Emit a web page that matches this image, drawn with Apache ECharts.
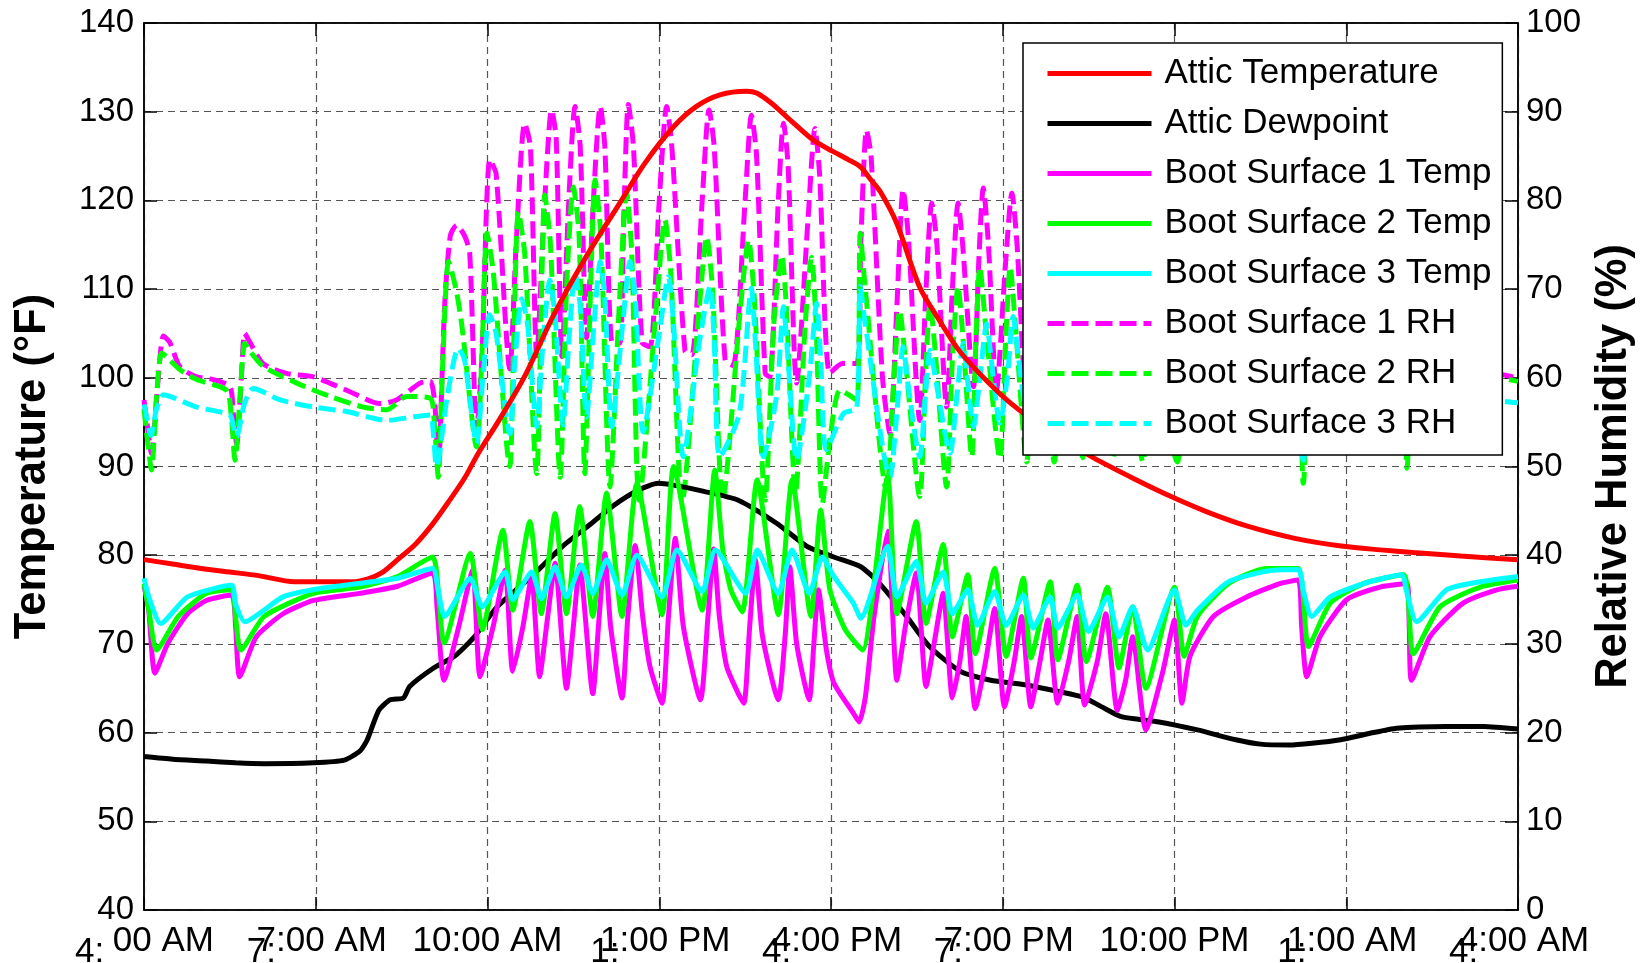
<!DOCTYPE html>
<html>
<head>
<meta charset="utf-8">
<title>Attic and boot surface conditions</title>
<script src="https://cdn.jsdelivr.net/npm/echarts@6/dist/echarts.min.js"></script>
<style>
    html, body { margin: 0; padding: 0; background: #fff; }
    #chart { width: 1648px; height: 963px; }
</style>
</head>
<body>
<div id="chart"></div>
<script>
// x values are hours after 4:00 AM
const xTickLabels = ['4:00 AM', '7:00 AM', '10:00 AM', '1:00 PM', '4:00 PM', '7:00 PM', '10:00 PM', '1:00 AM', '4:00 AM']
// the stray fragments printed under some tick labels
const xTickStubs = ['4:', '7:', '', '1:', '4:', '7:', '', '1:', '4:']

// temperatures (°F)
const atticTemp = [[0,79.5],[0.5,79.0],[1,78.5],[1.5,78.1],[2,77.7],[2.63,77.0],[3.63,77.0],[3.9,77.3],[4.15,78.0],[4.43,79.5],[4.75,81.3],[5.04,83.5],[5.35,86.3],[5.6,88.7],[5.84,91.5],[6.2,95.2],[6.66,100.3],[7.15,107.0],[7.7,113.4],[8.31,119.7],[8.75,124.2],[9.25,128.3],[9.65,130.6],[10.06,131.9],[10.53,132.3],[10.7,132.1],[10.95,131.0],[11.23,129.4],[11.69,126.8],[12.04,125.5],[12.3,124.6],[12.51,123.8],[12.7,122.3],[12.86,121.0],[13.15,117.4],[13.55,110.2],[13.9,106.4],[14.2,103.4],[14.49,101.2],[14.95,98.2],[15.3,96.3],[15.8,94.0],[16.58,91.0],[17.3,88.6],[17.98,86.5],[18.6,84.8],[19.26,83.3],[20.1,81.9],[20.95,81.0],[21.6,80.6],[22.17,80.3],[23.0,79.9],[24,79.5]]

const atticDew = [[0,57.3],[0.5,57.0],[1.09,56.8],[1.6,56.6],[2.1,56.5],[2.96,56.6],[3.5,56.9],[3.77,57.9],[3.9,59.2],[4.1,62.5],[4.3,63.7],[4.53,63.9],[4.64,65.2],[5.04,67.2],[5.44,68.7],[5.77,70.8],[6.17,74.2],[6.77,77.6],[7.31,81.0],[7.78,83.4],[8.18,85.5],[8.65,87.4],[8.98,88.1],[9.25,87.9],[9.78,87.2],[10.38,86.2],[11.05,83.6],[11.58,81.0],[12.05,79.8],[12.52,78.7],[12.85,76.8],[13.32,73.1],[13.72,69.7],[14.26,66.9],[14.79,65.9],[15.39,65.4],[16.0,64.6],[16.4,64.0],[16.73,62.9],[17.07,61.8],[17.73,61.2],[18.4,60.3],[19.07,59.2],[19.5,58.7],[20.0,58.6],[20.4,58.8],[20.9,59.2],[21.4,59.9],[21.88,60.5],[22.75,60.7],[23.4,60.7],[24,60.4]]

const boot1Temp = [[0,76.5],[0.08,74],[0.19,66.7],[0.42,70.1],[0.76,73.4],[1.09,74.9],[1.53,75.5],[1.6,72],[1.67,66.3],[1.96,70.8],[2.43,73.4],[2.96,74.9],[3.77,75.7],[4.43,76.5],[5.04,78.0],[5.12,74],[5.24,65.9],[5.5,72],[5.74,78.3],[5.87,66.3],[6.1,72],[6.31,78.3],[6.44,66.9],[6.62,72],[6.77,77.6],[6.91,66.3],[7.05,73],[7.18,79.1],[7.38,65.0],[7.5,72],[7.61,78.9],[7.84,64.4],[7.95,73],[8.05,80.2],[8.15,72],[8.35,63.9],[8.45,73],[8.58,81.1],[8.71,73.1],[8.84,67.4],[9.05,63.3],[9.16,73],[9.28,81.9],[9.42,72],[9.72,63.7],[9.85,73],[9.95,80.7],[10.05,73.1],[10.18,67.4],[10.38,64.4],[10.48,63.3],[10.58,72],[10.68,79.5],[10.8,71],[11.08,63.7],[11.2,71],[11.28,78.7],[11.4,70],[11.62,63.7],[11.7,70],[11.78,76.1],[11.92,69.3],[12.05,65.6],[12.39,62.2],[12.49,61.2],[12.6,64],[12.75,73],[12.99,82.7],[13.15,65.9],[13.3,72],[13.49,78.0],[13.66,65.2],[13.8,70],[13.96,75.7],[14.12,63.9],[14.25,68],[14.36,73.1],[14.52,62.7],[14.7,68],[14.86,74.0],[15.03,62.9],[15.2,68],[15.33,73.1],[15.49,62.9],[15.65,68],[15.79,72.7],[15.96,63.3],[16.15,68],[16.3,73.1],[16.43,63.1],[16.65,68],[16.8,73.4],[17.0,62.5],[17.15,66],[17.27,70.8],[17.5,60.3],[17.8,67],[18.0,72.7],[18.13,63.3],[18.27,68.6],[18.68,73.1],[19.26,75.3],[19.84,76.8],[20.16,77.2],[20.22,72],[20.31,66.3],[20.54,70.8],[21.01,75.0],[21.59,76.4],[22.06,76.8],[22.1,72],[22.14,65.9],[22.46,70.8],[23.04,74.6],[23.63,76.1],[24,76.5]]

const boot2Temp = [[0,76.8],[0.08,74],[0.22,69.3],[0.6,73.1],[1.09,75.7],[1.53,76.1],[1.6,73],[1.69,69.3],[2.1,73.1],[2.96,75.7],[3.77,76.4],[4.43,77.6],[5.04,79.8],[5.14,76],[5.24,70.1],[5.7,80.2],[5.91,71.6],[6.27,82.8],[6.44,73.8],[6.74,83.8],[6.94,73.4],[7.18,84.7],[7.38,73.4],[7.61,85.5],[7.84,73.1],[8.08,87.0],[8.35,73.1],[8.61,88.1],[9.05,73.3],[9.25,90.0],[9.75,73.8],[9.97,89.6],[10.11,80.6],[10.25,76.1],[10.45,73.6],[10.71,88.5],[11.08,73.3],[11.32,88.5],[11.65,73.1],[11.82,85.1],[11.98,76.1],[12.25,71.6],[12.55,69.3],[12.99,88.9],[13.15,73.4],[13.49,83.8],[13.66,72.3],[13.96,81.2],[14.12,70.8],[14.39,77.8],[14.52,68.9],[14.86,78.5],[15.06,68.6],[15.36,77.4],[15.49,68.4],[15.83,77.0],[15.96,68.2],[16.3,76.6],[16.46,68.0],[16.83,76.4],[17.03,67.3],[17.27,74.2],[17.5,65.0],[18.0,76.4],[18.17,68.6],[18.4,73.1],[18.94,76.8],[19.6,78.5],[20.16,78.5],[20.34,69.7],[20.72,74.6],[21.3,76.8],[22.0,77.8],[22.17,68.9],[22.64,74.2],[23.34,76.4],[24,77.2]]

const boot3Temp = [[0,77.4],[0.1,75],[0.29,72.3],[0.76,75.3],[1.53,76.6],[1.6,74.5],[1.76,72.5],[2.43,75.3],[3.13,76.3],[4.43,77.4],[5.04,78.5],[5.14,76],[5.25,73.1],[5.7,77.4],[5.91,74.2],[6.31,78.1],[6.44,75.0],[6.77,78.1],[6.94,75.1],[7.18,78.7],[7.38,75.3],[7.64,78.9],[7.84,75.7],[8.08,79.5],[8.35,75.5],[8.61,80.0],[9.05,75.3],[9.31,80.6],[9.75,75.9],[9.98,80.6],[10.51,75.7],[10.71,80.6],[11.08,75.7],[11.32,80.6],[11.62,75.7],[11.85,79.8],[12.05,77.6],[12.39,74.6],[12.52,72.9],[12.99,81.0],[13.15,75.3],[13.49,79.3],[13.66,74.6],[13.96,78.1],[14.12,73.4],[14.39,76.1],[14.56,72.1],[14.86,75.9],[15.06,72.1],[15.36,75.5],[15.53,71.8],[15.83,75.3],[15.96,71.8],[16.3,75.5],[16.5,71.4],[16.83,75.3],[17.03,70.8],[17.27,74.2],[17.53,69.3],[18.0,76.1],[18.2,72.1],[18.4,73.8],[18.94,77.0],[19.6,78.2],[20.16,78.4],[20.25,76],[20.4,73.1],[20.72,75.3],[21.3,76.8],[21.97,77.8],[22.05,76],[22.23,72.5],[22.75,76.1],[23.34,77.0],[24,77.6]]

// relative humidity (%)
const boot1RH = [[0,57.5],[0.05,55],[0.13,51.5],[0.25,60],[0.34,64.7],[0.45,64],[0.63,61.2],[0.92,60.1],[1.21,59.8],[1.5,59.0],[1.56,56],[1.62,52.5],[1.7,60],[1.76,65.0],[1.85,64],[2.08,61.6],[2.49,60.5],[2.96,60.1],[3.54,58.6],[4.12,57.1],[4.41,57.5],[4.82,59.4],[5.0,59.6],[5.08,57],[5.14,50.0],[5.25,68],[5.35,76],[5.46,77.2],[5.6,76],[5.69,74],[5.81,54],[5.9,62],[6.04,84.6],[6.15,83],[6.39,61],[6.5,75],[6.65,88.7],[6.75,86],[6.86,62.5],[7.0,80],[7.12,90.2],[7.2,87],[7.3,62.4],[7.42,80],[7.53,90.6],[7.62,86],[7.73,64.5],[7.85,80],[7.97,90.6],[8.05,86],[8.17,64],[8.31,63.9],[8.38,78],[8.46,90.8],[8.55,86],[8.7,64],[8.84,63.5],[9.0,80],[9.13,90.6],[9.22,86],[9.45,63],[9.57,62.6],[9.75,80],[9.87,90.2],[9.96,86],[10.15,62],[10.29,61.4],[10.5,80],[10.61,89.6],[10.7,85],[10.85,60.5],[10.93,60.1],[11.08,80],[11.17,88.7],[11.25,84],[11.4,59.4],[11.6,78],[11.72,88.1],[11.8,83],[11.98,60.5],[12.2,61.6],[12.45,61.6],[12.52,75],[12.62,87.9],[12.7,85],[12.9,60],[13.03,53.7],[13.15,68],[13.26,81.2],[13.35,76],[13.55,55.2],[13.66,70],[13.76,79.7],[13.85,75],[14.02,56.7],[14.12,70],[14.22,79.7],[14.3,75],[14.49,59.0],[14.58,73],[14.66,81.4],[14.75,75],[14.89,58.6],[15.05,73],[15.16,80.8],[15.25,75],[15.4,58.5],[15.52,72],[15.62,80.0],[15.72,74],[15.88,58.5],[16.0,72],[16.08,79.0],[16.2,73],[16.35,58.8],[16.45,71],[16.55,78.0],[16.68,72],[16.9,58.8],[17.0,70],[17.1,77.0],[17.22,71],[17.42,57.5],[17.52,68],[17.6,74.0],[17.75,68],[18.05,58],[18.15,66],[18.25,72.0],[18.4,66],[18.7,62],[19.2,61],[20.1,60.5],[20.25,52],[20.4,63],[21.0,61.5],[22.0,60.5],[22.1,52],[22.25,64],[23.0,61.5],[24,60]]

const boot2RH = [[0,56.5],[0.06,53],[0.13,49.6],[0.22,58],[0.31,62.8],[0.45,62],[0.63,60.9],[0.92,59.8],[1.44,58.6],[1.52,56],[1.59,50.7],[1.68,58],[1.76,63.9],[1.85,63],[2.08,61.3],[2.67,59.4],[3.25,57.9],[3.83,56.7],[4.24,56.4],[4.59,57.9],[5.0,57.7],[5.07,55],[5.14,48.8],[5.22,62],[5.32,73.1],[5.45,70],[5.55,66],[5.81,52.2],[5.9,62],[5.99,76.3],[6.1,72],[6.39,50.0],[6.45,62],[6.54,78.7],[6.65,74],[6.86,49.2],[6.93,65],[7.0,80.6],[7.1,75],[7.27,48.8],[7.38,70],[7.5,81.5],[7.6,76],[7.7,49.2],[7.8,70],[7.88,82.3],[7.98,76],[8.14,47.7],[8.3,68],[8.43,80.8],[8.52,74],[8.65,46.2],[8.95,68],[9.1,77.8],[9.2,72],[9.4,46],[9.7,68],[9.83,75.9],[9.93,70],[10.11,46.2],[10.42,68],[10.56,75.5],[10.66,69],[10.85,46.2],[11.0,66],[11.14,73.8],[11.22,68],[11.38,47],[11.55,66],[11.66,73.6],[11.74,66],[11.85,45.8],[12.0,54],[12.16,58.6],[12.45,57.5],[12.51,76.3],[12.6,70],[12.97,47.3],[13.1,60],[13.2,67.6],[13.3,62],[13.55,46.6],[13.65,60],[13.73,68.4],[13.82,63],[14.02,47.7],[14.12,62],[14.22,70.3],[14.3,65],[14.46,51.1],[14.53,64],[14.6,72.5],[14.7,66],[14.95,50.9],[15.05,64],[15.13,72.5],[15.22,66],[15.42,50.5],[15.52,64],[15.6,71],[15.7,65],[15.9,50.5],[16.0,63],[16.07,70],[16.17,64],[16.4,51],[16.48,63],[16.55,69],[16.65,63],[16.93,51],[17.02,62],[17.1,68],[17.2,62],[17.45,50.5],[17.55,60],[17.6,66],[17.7,61],[18.05,50.5],[18.15,60],[18.25,66],[18.4,62],[18.7,61],[19.2,60.5],[20.1,59.8],[20.25,48.1],[20.4,62],[21.0,60.5],[22.0,59.8],[22.06,49.8],[22.25,63],[23.0,61],[24,59.6]]

const boot3RH = [[0,57],[0.05,55.5],[0.12,53.5],[0.22,56.5],[0.34,58.1],[0.5,57.8],[0.92,56.7],[1.5,55.8],[1.56,54.5],[1.62,53.4],[1.75,57],[1.91,58.8],[2.38,57.5],[2.96,56.7],[3.54,56.2],[4.24,55.2],[4.71,55.6],[5.0,55.8],[5.05,54],[5.11,50.0],[5.3,58],[5.49,63.3],[5.6,62],[5.81,52.6],[5.92,60],[6.04,67.1],[6.15,65],[6.39,53.7],[6.48,62],[6.6,68.9],[6.7,66],[6.86,54.5],[6.97,64],[7.09,71.0],[7.18,67],[7.32,54.7],[7.43,65],[7.53,71.8],[7.62,68],[7.73,55.6],[7.86,66],[7.97,73.1],[8.05,69],[8.17,54.5],[8.36,66],[8.49,73.1],[8.58,69],[8.72,53.9],[9.0,65],[9.16,71.4],[9.25,66],[9.42,51.1],[9.7,64],[9.89,70.3],[9.96,64],[10.06,51.1],[10.4,56],[10.61,70.1],[10.68,64],[10.82,51.1],[11.05,58],[11.17,68.0],[11.25,62],[11.4,50.7],[11.62,60],[11.75,68.4],[11.82,62],[11.92,51.9],[12.22,56],[12.45,56.6],[12.51,70.3],[12.6,66],[13.03,48.8],[13.15,56],[13.26,63.5],[13.35,59],[13.55,51.1],[13.65,58],[13.73,63.1],[13.85,59],[14.08,51.5],[14.2,58],[14.31,63.9],[14.38,60],[14.49,54.5],[14.6,60],[14.72,66.1],[14.8,62],[14.95,54.9],[15.08,60],[15.18,66.9],[15.28,62],[15.45,54.5],[15.55,60],[15.65,66],[15.75,61],[15.92,54.5],[16.02,60],[16.1,65],[16.2,60],[16.42,54],[16.5,59],[16.58,64],[16.7,59],[16.95,53.5],[17.05,58],[17.12,63],[17.25,58],[17.48,53],[17.58,57],[17.65,61],[17.8,57],[18.08,53.5],[18.18,58],[18.28,62],[18.45,59],[18.8,58.3],[19.5,57.8],[20.1,57.5],[20.25,50.7],[20.4,59],[21.0,58],[22.0,57.5],[22.08,51.1],[22.25,60],[23.0,58],[24,57.2]]

const FONT = '"Liberation Sans", Arial, Helvetica, sans-serif'

const chartInstance = echarts.init(document.getElementById('chart'))

const makeLine = (name, data, color, axisIndex, dashed, smooth) => ({
    name: name,
    type: 'line',
    yAxisIndex: axisIndex,
    data: data,
    symbol: 'none',
    showSymbol: false,
    smooth: smooth,
    z: dashed ? 2 : 3,
    lineStyle: { color: color, width: 5, type: dashed ? [17, 7] : 'solid' },
    itemStyle: { color: color },
    emphasis: { disabled: true }
})

const axisBlack = { color: '#000', width: 1.5 }

const option = {
    animation: false,
    backgroundColor: '#fff',
    grid: {
        left: 144, right: 130, top: 23, bottom: 53,
        containLabel: false,
        outerBoundsMode: 'none',
        show: true,
        backgroundColor: '#fff',
        borderColor: '#000',
        borderWidth: 1.5
    },
    legend: {
        orient: 'vertical',
        left: 1023,
        top: 43,
        padding: [13, 11, 14, 22],
        itemGap: 15,
        itemWidth: 104,
        itemHeight: 35,
        backgroundColor: '#fff',
        borderColor: '#000',
        borderWidth: 1.5,
        borderRadius: 0,
        // hide the marker that line series put in the middle of the icon
        itemStyle: { opacity: 0, borderWidth: 0 },
        lineStyle: { width: 5 },
        textStyle: { fontSize: 35, fontFamily: FONT, color: '#000', padding: [0, 0, 0, 8] },
        data: ['Attic Temperature', 'Attic Dewpoint', 'Boot Surface 1 Temp', 'Boot Surface 2 Temp',
            'Boot Surface 3 Temp', 'Boot Surface 1 RH', 'Boot Surface 2 RH', 'Boot Surface 3 RH']
    },
    xAxis: [
        {
            type: 'value', min: 0, max: 24, interval: 3, position: 'bottom',
            axisLine: { show: true, onZero: false, lineStyle: axisBlack },
            axisTick: { show: true, inside: true, length: 13, lineStyle: axisBlack },
            splitLine: { show: true, lineStyle: { color: '#555', width: 1.2, type: [7, 5] } },
            axisLabel: {
                margin: 14, fontSize: 35, fontFamily: FONT, color: '#000',
                formatter: (v) => {
                    const i = Math.round(v / 3)
                    if (i === 0) return '{first|00 AM}'
                    return xTickStubs[i] ? '{shift|' + xTickLabels[i] + '}' : xTickLabels[i]
                },
                rich: {
                    first: { width: 140, align: 'right', fontSize: 35, fontFamily: FONT, color: '#000' },
                    shift: { padding: [0, 0, 0, 12], fontSize: 35, fontFamily: FONT, color: '#000' }
                }
            }
        },
        {
            type: 'value', min: 0, max: 24, interval: 3, position: 'bottom',
            axisLine: { show: false, onZero: false },
            axisTick: { show: false },
            splitLine: { show: false },
            axisLabel: {
                margin: 25, fontSize: 35, fontFamily: FONT, color: '#000',
                formatter: (v) => {
                    const s = xTickStubs[Math.round(v / 3)]
                    return s ? '{s|' + s + '}' : ''
                },
                rich: {
                    s: { width: 138, align: 'left', fontSize: 35, fontFamily: FONT, color: '#000' }
                }
            }
        },
        {
            type: 'value', min: 0, max: 24, interval: 3, position: 'top',
            axisLine: { show: true, onZero: false, lineStyle: axisBlack },
            axisTick: { show: true, inside: true, length: 13, lineStyle: axisBlack },
            axisLabel: { show: false },
            splitLine: { show: false }
        }
    ],
    yAxis: [
        {
            type: 'value', min: 40, max: 140, interval: 10, position: 'left',
            name: 'Temperature (°F)',
            nameLocation: 'middle', nameGap: 89, nameRotate: 90,
            nameTextStyle: { fontSize: 43.5, fontWeight: 'bold', fontFamily: FONT, color: '#000' },
            axisLine: { show: true, onZero: false, lineStyle: axisBlack },
            axisTick: { show: true, inside: true, length: 13, lineStyle: axisBlack },
            splitLine: { show: true, lineStyle: { color: '#555', width: 1.2, type: [7, 5] } },
            axisLabel: { margin: 10, fontSize: 33, fontFamily: FONT, color: '#000' }
        },
        {
            type: 'value', min: 0, max: 100, interval: 10, position: 'right',
            name: 'Relative Humidity (%)',
            nameLocation: 'middle', nameGap: 72, nameRotate: 90,
            nameTextStyle: { fontSize: 43.5, fontWeight: 'bold', fontFamily: FONT, color: '#000' },
            axisLine: { show: true, onZero: false, lineStyle: axisBlack },
            axisTick: { show: true, inside: true, length: 13, lineStyle: axisBlack },
            splitLine: { show: false },
            axisLabel: { margin: 8, fontSize: 33, fontFamily: FONT, color: '#000' }
        }
    ],
    series: [
        makeLine('Attic Temperature', atticTemp, '#ff0000', 0, false, 0.3),
        makeLine('Attic Dewpoint', atticDew, '#000000', 0, false, 0.2),
        makeLine('Boot Surface 1 Temp', boot1Temp, '#ff00ff', 0, false, 0.2),
        makeLine('Boot Surface 2 Temp', boot2Temp, '#00ff00', 0, false, 0.2),
        makeLine('Boot Surface 3 Temp', boot3Temp, '#00ffff', 0, false, 0.2),
        makeLine('Boot Surface 1 RH', boot1RH, '#ff00ff', 1, true, 0.25),
        makeLine('Boot Surface 2 RH', boot2RH, '#00ff00', 1, true, 0.25),
        makeLine('Boot Surface 3 RH', boot3RH, '#00ffff', 1, true, 0.25)
    ]
}

chartInstance.setOption(option)
</script>
</body>
</html>
